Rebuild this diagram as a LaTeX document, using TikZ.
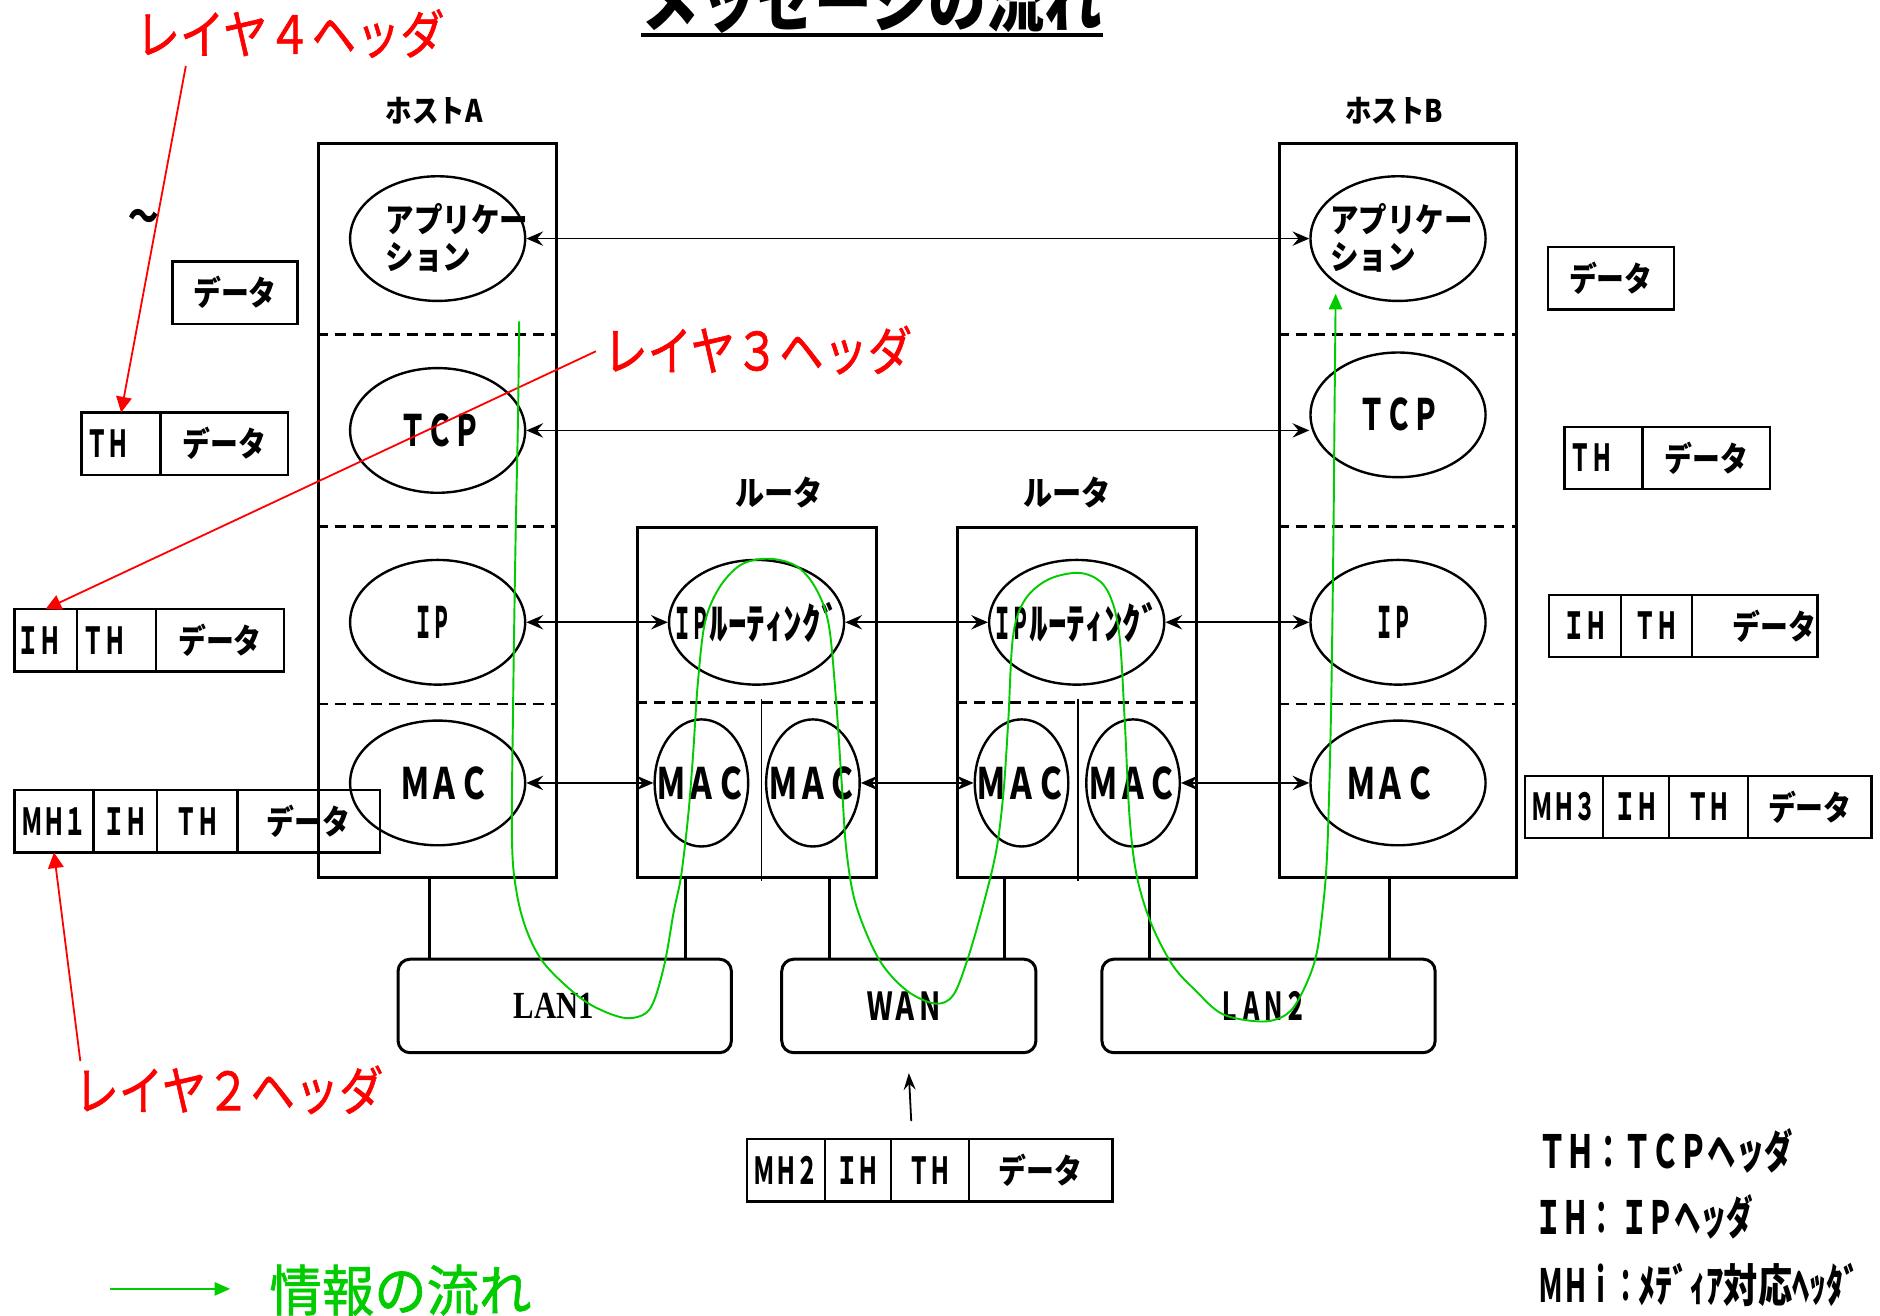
\documentclass[tikz,border=0pt]{standalone}
\usepackage{fontspec}
\usepackage{graphicx}
\usetikzlibrary{arrows.meta,shapes.geometric}
\newfontfamily\jpfont{Noto Sans CJK JP}
\newfontfamily\jpmed{Noto Sans CJK JP}[FakeBold=1.2]
\newfontfamily\serifbf{Liberation Serif}
\definecolor{flowgreen}{RGB}{0,204,0}
\newcommand\TxB[3]{\scalebox{#2}[1]{\jpfont\bfseries\fontsize{#1}{#1}\selectfont #3}}
\newcommand\TxR[3]{\scalebox{#2}[1]{\jpmed\fontsize{#1}{#1}\selectfont #3}}
\newcommand\CellL[2]{\makebox[#1pt][l]{#2}}
\newcommand\CellR[2]{\makebox[#1pt][r]{#2}}
\newcommand\Zs[2]{\makebox[0pt]{\kern#1\relax#2\kern-#1\relax}}
\begin{document}
\begin{tikzpicture}[x=1pt,y=-1pt,
  lbl/.style={inner sep=0pt, outer sep=0pt},
  hostbox/.style={draw, line width=2.5pt, minimum width=198pt, minimum height=612pt, inner sep=0pt},
  rtbox/.style={draw, line width=2.5pt, minimum width=199pt, minimum height=292pt, inner sep=0pt},
  lay/.style={ellipse, draw, line width=2pt, minimum width=146pt, minimum height=104pt, inner sep=0pt},
  macel/.style={ellipse, draw, line width=2pt, minimum width=78pt, minimum height=106pt, inner sep=0pt},
  divline/.style={line width=2pt, dash pattern=on 9pt off 6pt},
  biarr/.style={line width=1.5pt, >={Stealth[length=14pt,width=12pt,inset=5pt]}, <->},
  cell/.style={draw, line width=2pt, minimum height=52pt, inner sep=0pt, outer sep=0pt},
  lan/.style={draw, rounded corners=10pt, line width=2.5pt, minimum width=278pt, minimum height=78pt, inner sep=0pt},
  link/.style={line width=2.5pt},
  redarr/.style={draw=red, line width=1.5pt, arrows={-Triangle[length=13pt,width=13pt]}},
  flowarr/.style={draw=flowgreen, line width=1.6pt, arrows={-Triangle[length=13pt,width=11pt]}},
]
\fill[white] (0,0) rectangle (1568,1097);
\useasboundingbox (0,0) rectangle (1568,1097);

% title
\node[lbl, anchor=base] (ttl) at (727,22) {\TxB{56}{0.86}{メッセージの流れ}};
\draw[line width=3.5pt] (535,29) -- (920,29);

% hosts
\node[hostbox] (hostA) at (365,426) {};
\node[hostbox] (hostB) at (1166,426) {};
\node[lbl] (hostAl) at (362,92) {\TxB{26}{0.85}{ホストA}};
\node[lbl] (hostBl) at (1163,92) {\TxB{26}{0.85}{ホストB}};
\foreach \yy in {279,439,587}{
  \draw[divline] (hostA.west |- 0,\yy) -- (hostA.east |- 0,\yy);
  \draw[divline] (hostB.west |- 0,\yy) -- (hostB.east |- 0,\yy);
}

% routers
\node[rtbox] (rt1) at (631.5,586) {};
\node[rtbox] (rt2) at (898.5,586) {};
\node[lbl] (rt1l) at (650,411) {\TxB{28}{0.87}{ルータ}};
\node[lbl] (rt2l) at (890,411) {\TxB{28}{0.87}{ルータ}};
\draw[divline] (rt1.west) -- (rt1.east);
\draw[divline] (rt2.west) -- (rt2.east);
\draw[line width=1.2pt] (635,583) -- (635,735);
\draw[line width=1.2pt] (899,583) -- (899,735);

% layer ellipses host A
\node[lay] (appA) at (365,199) {\Zs{16pt}{\begin{tabular}{@{}l@{}}\TxB{28}{0.85}{アプリケー}\\[4pt]\TxB{28}{0.85}{ション}\end{tabular}}};
\node[lay] (tcpA) at (365,359) {\Zs{2pt}{\TxB{36}{0.63}{ＴＣＰ}}};
\node[lay] (ipA) at (365,519) {\Zs{-4pt}{\TxB{36}{0.42}{ＩＰ}}};
\node[lay] (macA) at (365,653) {\Zs{6pt}{\TxB{36}{0.69}{ＭＡＣ}}};
% host B
\node[lay] (appB) at (1166,199) {\Zs{3pt}{\begin{tabular}{@{}l@{}}\TxB{28}{0.85}{アプリケー}\\[4pt]\TxB{28}{0.85}{ション}\end{tabular}}};
\node[lay] (tcpB) at (1166,346) {\Zs{1pt}{\TxB{36}{0.63}{ＴＣＰ}}};
\node[lay] (ipB) at (1166,519) {\Zs{-4pt}{\TxB{36}{0.42}{ＩＰ}}};
\node[lay] (macB) at (1166,653) {\Zs{-6pt}{\TxB{36}{0.69}{ＭＡＣ}}};
% routers
\node[lay] (ipr1) at (631,519) {\Zs{0pt}{\TxB{36}{0.42}{ＩＰ}\TxB{36}{0.86}{ﾙｰﾃｨﾝｸﾞ}}};
\node[lay] (ipr2) at (898,519) {\Zs{0pt}{\TxB{36}{0.42}{ＩＰ}\TxB{36}{0.86}{ﾙｰﾃｨﾝｸﾞ}}};
\node[macel] (m1a) at (585,653) {\Zs{0pt}{\TxB{36}{0.69}{ＭＡＣ}}};
\node[macel] (m1b) at (678,653) {\Zs{0pt}{\TxB{36}{0.69}{ＭＡＣ}}};
\node[macel] (m2a) at (852,653) {\Zs{0pt}{\TxB{36}{0.69}{ＭＡＣ}}};
\node[macel] (m2b) at (945,653) {\Zs{0pt}{\TxB{36}{0.69}{ＭＡＣ}}};

% peer arrows
\draw[biarr] (appA) -- (appB);
\draw[biarr] (tcpA.east) -- (tcpA.east -| tcpB.west);
\draw[biarr] (ipA) -- (ipr1);
\draw[biarr] (ipr1) -- (ipr2);
\draw[biarr] (ipr2) -- (ipB);
\draw[biarr] (macA) -- (m1a);
\draw[biarr] (m1b) -- (m2a);
\draw[biarr] (m2b) -- (macB);

% networks
\node[lan] (lan1) at (471,839) {\Zs{-9pt}{\scalebox{0.8}[1]{\serifbf\bfseries\fontsize{32}{32}\selectfont LAN1}}};
\node[lan, minimum width=212pt] (wan) at (758,839) {\Zs{-3pt}{\TxB{32}{0.66}{ＷＡＮ}}};
\node[lan] (lan2) at (1058,839) {\Zs{-5pt}{\TxB{32}{0.58}{ＬＡＮ２}}};
\draw[link] (hostA.south -| 358,0) -- (lan1.north -| 358,0);
\draw[link] (rt1.south -| 572,0) -- (lan1.north -| 572,0);
\draw[link] (rt1.south -| 692,0) -- (wan.north -| 692,0);
\draw[link] (rt2.south -| 838,0) -- (wan.north -| 838,0);
\draw[link] (rt2.south -| 959,0) -- (lan2.north -| 959,0);
\draw[link] (hostB.south -| 1159,0) -- (lan2.north -| 1159,0);

% packets left
\node[cell, minimum width=104pt, anchor=north west] (pd1) at (144,218) {\TxB{28}{0.83}{データ}};
\node[cell, minimum width=66pt, anchor=north west] (pt2a) at (68,344) {\CellL{58}{\TxB{31}{0.58}{ＴＨ}}};
\node[cell, minimum width=106pt, anchor=west] (pt2b) at (pt2a.east) {\TxB{28}{0.83}{データ}};
\node[cell, minimum width=52pt, anchor=north west] (pi3a) at (12,508) {\CellL{46}{\TxB{31}{0.58}{ＩＨ}}};
\node[cell, minimum width=66pt, anchor=west] (pi3b) at (pi3a.east) {\CellL{56}{\TxB{31}{0.58}{ＴＨ}}};
\node[cell, minimum width=107pt, anchor=west] (pi3c) at (pi3b.east) {\TxB{28}{0.83}{データ}};
\node[cell, minimum width=66pt, anchor=north west] (pm4a) at (12,659) {\TxB{31}{0.58}{ＭＨ１}};
\node[cell, minimum width=53pt, anchor=west] (pm4b) at (pm4a.east) {\TxB{31}{0.58}{ＩＨ}};
\node[cell, minimum width=67pt, anchor=west] (pm4c) at (pm4b.east) {\TxB{31}{0.58}{ＴＨ}};
\node[cell, minimum width=119pt, anchor=west] (pm4d) at (pm4c.east) {\TxB{28}{0.83}{データ}};

% packets right
\node[cell, minimum width=105pt, anchor=north west] (pd5) at (1291,206) {\TxB{28}{0.83}{データ}};
\node[cell, minimum width=65pt, anchor=north west] (pt6a) at (1305,356) {\CellL{57}{\TxB{31}{0.58}{ＴＨ}}};
\node[cell, minimum width=106pt, anchor=west] (pt6b) at (pt6a.east) {\TxB{28}{0.83}{データ}};
\node[cell, minimum width=60pt, anchor=north west] (pi7a) at (1292,496) {\TxB{31}{0.58}{ＩＨ}};
\node[cell, minimum width=59pt, anchor=west] (pi7b) at (pi7a.east) {\TxB{31}{0.58}{ＴＨ}};
\node[cell, minimum width=105pt, anchor=west] (pi7c) at (pi7b.east) {\CellR{103}{\TxB{28}{0.83}{データ}}};
\node[cell, minimum width=65pt, anchor=north west] (pm8a) at (1272,647) {\TxB{31}{0.58}{ＭＨ３}};
\node[cell, minimum width=55pt, anchor=west] (pm8b) at (pm8a.east) {\TxB{31}{0.58}{ＩＨ}};
\node[cell, minimum width=66pt, anchor=west] (pm8c) at (pm8b.east) {\TxB{31}{0.58}{ＴＨ}};
\node[cell, minimum width=103pt, anchor=west] (pm8d) at (pm8c.east) {\TxB{28}{0.83}{データ}};

% packet bottom
\node[cell, minimum width=65pt, anchor=north west] (pm9a) at (623,950) {\TxB{31}{0.58}{ＭＨ２}};
\node[cell, minimum width=55pt, anchor=west] (pm9b) at (pm9a.east) {\TxB{31}{0.58}{ＩＨ}};
\node[cell, minimum width=65pt, anchor=west] (pm9c) at (pm9b.east) {\TxB{31}{0.58}{ＴＨ}};
\node[cell, minimum width=120pt, anchor=west] (pm9d) at (pm9c.east) {\TxB{28}{0.83}{データ}};
\coordinate (wa) at (760,935);
\draw[line width=1.5pt, arrows={-Stealth[length=14pt,width=10pt,inset=5pt]}] (wa) -- (758,895);

% tilde
\node[lbl] (tld) at (120,184) {\TxB{34}{0.75}{～}};

% red labels
\node[lbl, text=red] (l4) at (242,28) {\TxR{44}{0.84}{レイヤ４ヘッダ}};
\node[lbl, text=red] (l3) at (632,292) {\TxR{44}{0.84}{レイヤ３ヘッダ}};
\node[lbl, text=red] (l2) at (191,909) {\TxR{44}{0.84}{レイヤ２ヘッダ}};
\coordinate (r4s) at (155,55);
\coordinate (r3s) at (497,293);
\coordinate (r2s) at (67,885);
\draw[redarr] (r4s) -- (pt2a.north);
\draw[redarr] (r3s) -- (pi3a.north);
\draw[redarr] (r2s) -- (pm4a.south);

% legend
\node[lbl, anchor=west] (lg1) at (1283,960) {\TxB{38}{0.62}{ＴＨ：ＴＣＰヘッダ}};
\node[lbl, anchor=west] (lg2) at (1281,1015) {\TxB{38}{0.58}{ＩＨ： ＩＰヘッダ}};
\node[lbl, anchor=west] (lg3) at (1283,1072) {\TxB{38}{0.55}{ＭＨｉ：}\TxB{38}{0.75}{ﾒﾃﾞｨｱ対応ﾍｯﾀﾞ}};

% green legend
\coordinate (lgs) at (92,1075);
\draw[flowarr] (lgs) -- ++(100,0);
\node[lbl, text=flowgreen] (lgt) at (334,1076) {\TxR{46}{0.95}{情報の流れ}};

% information flow
\coordinate (fs) at (433,268);
\coordinate (fe) at (1114,245);
\draw[flowarr] plot[smooth, tension=0.55] coordinates {(fs) (432,350) (430,450) (428,584) (427,700) (431,745) (440,778) (455,805) (485,833) (510,846) (528,849) (543,840) (554,805) (562,760) (568,731) (574,680) (578,630) (582,570) (588,519) (600,490) (618,471) (641,466) (664,472) (680,490) (691,520) (697,580) (702,653) (706,710) (714,755) (733,800) (756,826) (780,837) (795,830) (807,800) (820,755) (831,709) (837,660) (841,600) (845,530) (855,500) (875,483) (902,478) (922,490) (933,525) (938,600) (942,680) (948,730) (960,770) (978,805) (997,826) (1020,846) (1053,852) (1073,846) (1085,830) (1097,800) (1103,760) (1107,709) (1110,600) (1112,460) (1113,350) (fe)};
\end{tikzpicture}
\end{document}
